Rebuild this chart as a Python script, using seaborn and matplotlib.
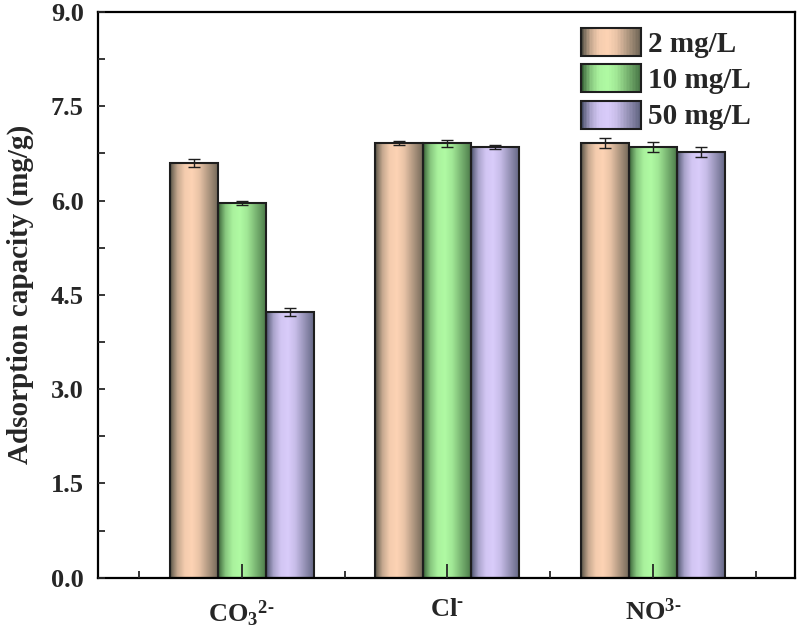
import numpy as np
import pandas as pd
import matplotlib
matplotlib.use("Agg")
import matplotlib.pyplot as plt
import seaborn as sns
from matplotlib.patches import Rectangle
from matplotlib.legend_handler import HandlerBase
from matplotlib.ticker import FixedLocator

# ---- data ----
ion_keys = ["CO3", "Cl", "NO3"]
ion_labels = [r"$\mathbf{CO_3{}^{2\text{-}}}$", r"$\mathbf{Cl^{\text{-}}}$", r"$\mathbf{NO^{3\text{-}}}$"]
concentrations = ["2 mg/L", "10 mg/L", "50 mg/L"]
cap_2 = [6.60, 6.91, 6.91]
cap_10 = [5.96, 6.91, 6.85]
cap_50 = [4.23, 6.85, 6.78]
err_2 = [0.06, 0.03, 0.08]
err_10 = [0.03, 0.06, 0.08]
err_50 = [0.06, 0.03, 0.08]
y_ticks = [0.0, 1.5, 3.0, 4.5, 6.0, 7.5, 9.0]

light_cols = [(253/255, 211/255, 180/255), (176/255, 250/255, 163/255), (217/255, 204/255, 250/255)]
edge_cols = [(80/255, 77/255, 65/255), (50/255, 90/255, 50/255), (70/255, 77/255, 102/255)]

rows = []
for c, vals, errs in zip(concentrations, [cap_2, cap_10, cap_50], [err_2, err_10, err_50]):
    for k, v, e in zip(ion_keys, vals, errs):
        rows.append({"ion": k, "conc": c, "cap": v, "err": e})
df = pd.DataFrame(rows)

sns.set_theme(style="ticks")
plt.rcParams["font.family"] = ["Liberation Serif", "DejaVu Serif"]
plt.rcParams["font.weight"] = "bold"
plt.rcParams["mathtext.fontset"] = "custom"
plt.rcParams["mathtext.rm"] = "Liberation Serif"
plt.rcParams["mathtext.bf"] = "Liberation Serif:bold"
plt.rcParams["mathtext.it"] = "Liberation Serif:italic"

fig, ax = plt.subplots(figsize=(8, 6.32), dpi=100)
fig.subplots_adjust(left=0.122, right=0.994, top=0.981, bottom=0.086)

palette = dict(zip(concentrations, light_cols))
sns.barplot(data=df, x="ion", y="cap", hue="conc", order=ion_keys, hue_order=concentrations,
            palette=palette, width=0.7, errorbar=None, legend=False, ax=ax,
            edgecolor="#1e1e1e", linewidth=1.5, saturation=1)

T_CTRL = [0.0, 0.05, 0.15, 0.30, 0.45, 0.60, 0.75, 0.90, 1.0]
F_CTRL = [0.0, 0.28, 0.68, 0.95, 1.0, 0.88, 0.62, 0.36, 0.18]


def gradient_colors(light, edge, n=80):
    t = np.linspace(0, 1, n)
    f = np.interp(t, T_CTRL, F_CTRL)
    light = np.array(light)
    edge = np.array(edge)
    return edge[None, :] + (light - edge)[None, :] * f[:, None]


bars = list(ax.patches)
n_ions = len(ion_keys)
for i, patch in enumerate(bars):
    h = i // n_ions
    x0, y0 = patch.get_x(), patch.get_y()
    w, ht = patch.get_width(), patch.get_height()
    grad = gradient_colors(light_cols[h], edge_cols[h])[None, :, :]
    im = ax.imshow(grad, extent=[x0, x0 + w, y0, y0 + ht], aspect="auto",
                   interpolation="bilinear", zorder=1.0, origin="lower")
    im.set_clip_path(patch)
    patch.set_facecolor("none")
    patch.set_zorder(1.2)

for i, patch in enumerate(bars):
    h = i // n_ions
    j = i % n_ions
    row = df[(df.conc == concentrations[h]) & (df.ion == ion_keys[j])].iloc[0]
    xc = patch.get_x() + patch.get_width() / 2
    ax.errorbar(xc, row.cap, yerr=row.err, fmt="none", ecolor="#1e1e1e",
                elinewidth=1.0, capsize=4.5, capthick=1.0, zorder=5)

ax.set_axisbelow(False)
ax.set_xlim(-0.7, 2.69)
ax.set_ylim(0, 9.0)
ax.set_yticks(y_ticks)
ax.set_yticklabels([f"{v:.1f}" for v in y_ticks])
ax.yaxis.set_minor_locator(FixedLocator([v + 0.75 for v in y_ticks[:-1]]))
ax.set_xticks(range(n_ions))
ax.set_xticklabels(ion_labels)
ax.xaxis.set_minor_locator(FixedLocator([-0.5, 0.5, 1.5, 2.5]))

ax.tick_params(axis="y", which="major", direction="in", length=5, width=1.3,
               labelsize=19, pad=10)
ax.tick_params(axis="y", which="minor", direction="in", length=5, width=1.3)
ax.tick_params(axis="x", which="major", direction="in", length=10, width=1.3,
               labelsize=19, pad=15)
ax.tick_params(axis="x", which="minor", direction="in", length=5, width=1.3)
for lab in ax.get_yticklabels():
    lab.set_fontweight("bold")
for sp in ax.spines.values():
    sp.set_visible(True)
    sp.set_linewidth(1.6)
    sp.set_color("black")

ax.set_xlabel("")
ax.set_ylabel("Adsorption capacity (mg/g)", fontsize=21, fontweight="bold", labelpad=12)


class GradientHandler(HandlerBase):
    def __init__(self, light, edge):
        super().__init__()
        self.light = light
        self.edge = edge

    def create_artists(self, legend, orig_handle, xdescent, ydescent, width, height, fontsize, trans):
        cols = gradient_colors(self.light, self.edge, n=40)
        arts = []
        sw = width / len(cols)
        for k, c in enumerate(cols):
            r = Rectangle((-xdescent + k * sw, -ydescent), sw * 1.05, height,
                          facecolor=c, edgecolor="none", transform=trans)
            arts.append(r)
        border = Rectangle((-xdescent, -ydescent), width, height, facecolor="none",
                           edgecolor="#1e1e1e", linewidth=1.5, transform=trans)
        arts.append(border)
        return arts


handles = [Rectangle((0, 0), 1, 1) for _ in concentrations]
handler_map = {hd: GradientHandler(l, e) for hd, l, e in zip(handles, light_cols, edge_cols)}
leg = ax.legend(handles, concentrations, handler_map=handler_map, loc="upper left",
                bbox_to_anchor=(0.693, 0.972), frameon=False, borderaxespad=0, borderpad=0,
                handlelength=2.05, handleheight=1.1, labelspacing=0.22, handletextpad=0.25,
                prop={"weight": "bold", "size": 21})

fig.savefig("out.png", dpi=100)
